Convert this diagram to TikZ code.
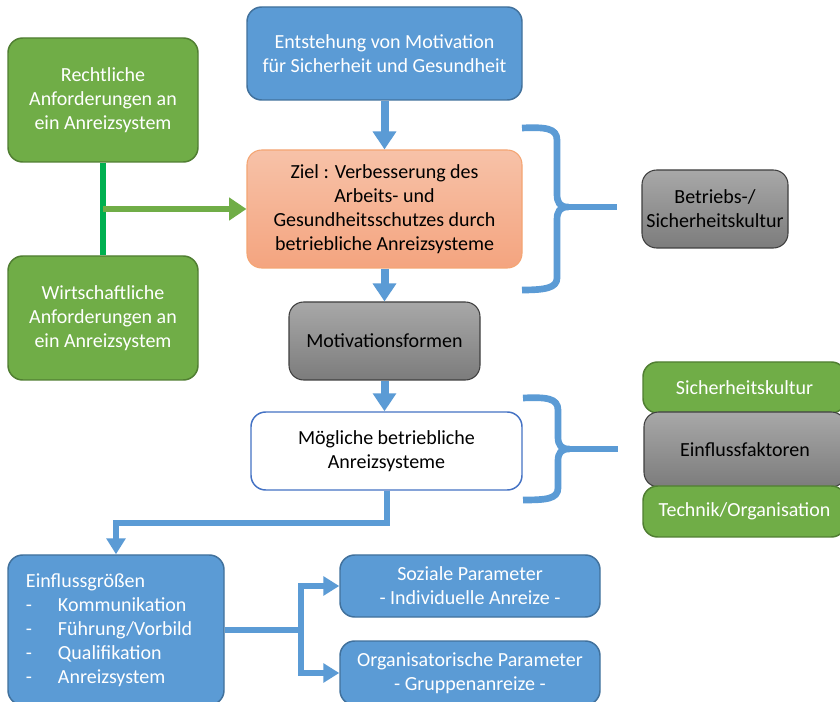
\documentclass[tikz,border=0pt]{standalone}
\usepackage{fontspec}
\setmainfont{Carlito}
\usetikzlibrary{arrows.meta,calc}
\definecolor{bluefill}{HTML}{5B9BD5}
\definecolor{blueline}{HTML}{41719C}
\definecolor{greenfill}{HTML}{70AD47}
\definecolor{greenline}{HTML}{507E32}
\definecolor{linkgreen}{HTML}{00B050}
\definecolor{graytop}{HTML}{A8A8A8}
\definecolor{graybot}{HTML}{7C7C7C}
\definecolor{grayline}{HTML}{3F3F3F}
\definecolor{orangetop}{HTML}{F7C2A8}
\definecolor{orangebot}{HTML}{F4A47F}
\definecolor{orangeline}{HTML}{F4A573}
\definecolor{outlineblue}{HTML}{4472C4}
\begin{document}
\begin{tikzpicture}[x=0.75pt,y=-0.75pt,
  span/.style args={#1/#2/#3/#4}{minimum width={(#3-#1)*0.75}, minimum height={(#4-#2)*0.75},
    at={({(#1+#3)/2},{(#2+#4)/2})}},
  base/.style={inner sep=0pt, rounded corners=11pt, align=center,
    font=\fontsize{15}{18}\selectfont},
  bluebox/.style={base, fill=bluefill, draw=blueline, line width=1.1pt, text=white},
  greenbox/.style={base, fill=greenfill, draw=greenline, line width=1.1pt, text=white},
  graybox/.style={base, top color=graytop, bottom color=graybot, draw=grayline, line width=0.8pt, text=black},
  orangebox/.style={base, top color=orangetop, bottom color=orangebot, draw=orangeline, line width=0.8pt, text=black},
  whitebox/.style={base, fill=white, draw=outlineblue, line width=1.1pt, text=black},
  barrow/.style={draw=bluefill, line width=6pt, -{Triangle[width=17pt,length=13.5pt]}},
  bthin/.style={draw=bluefill, line width=4.5pt, line join=miter},
  bthinarrow/.style={bthin, -{Triangle[width=14pt,length=12pt]}},
  gline/.style={draw=linkgreen, line width=3.8pt},
  garrow/.style={draw=greenfill, line width=3.8pt, -{Triangle[width=16.5pt,length=13pt]}},
  brace/.style={draw=bluefill, line width=5pt, line join=round}
]
\clip (0,0) rectangle (840,702);
\fill[white] (0,0) rectangle (840,702);

% main column
\node[bluebox, span=247/7/522/100] (top) {Entstehung von Motivation\\für Sicherheit und Gesundheit};
\node[orangebox, span=247/150/522/268] (ziel) {Ziel : Verbesserung des\\Arbeits- und\\Gesundheitsschutzes durch\\betriebliche Anreizsysteme};
\node[graybox, span=289/302/480/380] (motiv) {Motivationsformen};
\node[whitebox, span=251/412/522/490] (moeg) {Mögliche betriebliche\\Anreizsysteme};

% requirements on the left
\node[greenbox, span=8/38/198/162] (recht) {Rechtliche\\Anforderungen an\\ein Anreizsystem};
\node[greenbox, span=8/256/198/380] (wirt) {Wirtschaftliche\\Anforderungen an\\ein Anreizsystem};

% culture boxes on the right
\node[graybox, span=642/170/788/248] (kultur) {Betriebs-/\\Sicherheitskultur};
\node[greenbox, span=643/362/846/413] (sicher) {Sicherheitskultur};
\node[graybox, span=644/412/846/487] (faktoren) {Einflussfaktoren};
\node[greenbox, span=643/486/846/537] (technik) {Technik/Organisation};

% bottom row
\node[bluebox, span=8/555/224/705, align=left, text width=135pt] (eg)
  {Einflussgrößen\\
   \makebox[24pt][l]{-}Kommunikation\\
   \makebox[24pt][l]{-}Führung/Vorbild\\
   \makebox[24pt][l]{-}Qualifikation\\
   \makebox[24pt][l]{-}Anreizsystem};
\node[bluebox, span=340/555/600/617] (soz) {Soziale Parameter\\- Individuelle Anreize -};
\node[bluebox, span=340/641/600/705] (org) {Organisatorische Parameter\\- Gruppenanreize -};

% vertical flow
\draw[barrow] (top) -- (ziel);
\draw[barrow] (ziel) -- (motiv);
\draw[barrow] (motiv.south) -- (motiv.south |- moeg.north);

% green link between the requirements and the goal
\draw[gline] (recht.south) -- (wirt.north);
\coordinate (gmid) at ($(recht.south)!0.5!(wirt.north)$);
\draw[garrow] (gmid) -- (gmid -| ziel.west);

% from the incentive systems down to the influencing factors
\coordinate (bend) at (116,523);
\draw[bthinarrow] ([xshift=0.5pt]moeg.south) |- (bend) -- (eg.north);

% fork to the two parameter boxes
\coordinate (fork) at ([xshift=57pt]eg.east);
\draw[bthin] (eg.east) -- (fork);
\draw[bthinarrow] ([yshift=-1.7pt]fork) |- (soz.west);
\draw[bthinarrow] ([yshift=1.7pt]fork) |- (org.west);

% braces
\draw[brace] (522,128) .. controls (545,127) and (557,128) .. (557,140) -- (557,194)
  .. controls (557,203) and (560,207) .. (568,207)
  .. controls (560,207) and (557,211) .. (557,220) -- (557,278)
  .. controls (557,288) and (545,290) .. (522,290);
\draw[brace] (565,207) -- (617,207);
\draw[brace] (523,398) .. controls (546,397) and (558,398) .. (558,410) -- (558,437)
  .. controls (558,445) and (561,449) .. (569,449)
  .. controls (561,449) and (558,453) .. (558,461) -- (558,488)
  .. controls (558,499) and (546,500) .. (523,500);
\draw[brace] (566,449) -- (618,449);
\end{tikzpicture}
\end{document}
